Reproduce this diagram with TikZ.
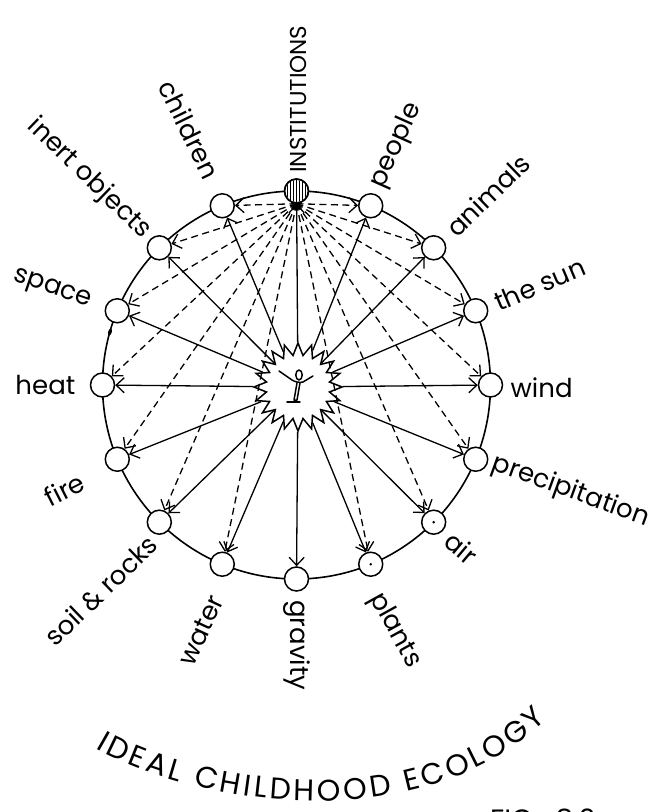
\documentclass[tikz,border=0pt]{standalone}
\usepackage{fontspec}
\setmainfont{Poppins}
\usetikzlibrary{arrows.meta,shapes.geometric,decorations.text}

\newcommand{\lblfont}{\fontsize{26}{28}\selectfont}
\newcommand{\titlefont}{\fontsize{30}{32}\selectfont}

\tikzset{
  ring/.style={line width=1.6pt},
  station/.style={circle, draw, line width=1.5pt, fill=white, minimum size=24pt, inner sep=0pt},
  lbl/.style={font=\lblfont, inner sep=0pt},
  lblout/.style={lbl, anchor=west},
  lblin/.style={lbl, anchor=east},
  link/.style={line width=1.3pt, -{Straight Barb[length=8pt,width=15pt,line width=1.3pt]}},
  dlink/.style={link, dash pattern=on 7pt off 4.5pt},
}

\begin{document}
\begin{tikzpicture}[x=1pt,y=1pt]
\fill[white] (-296.5,-427) rectangle (356.5,385);
\useasboundingbox (-296.5,-427) rectangle (356.5,385);

% the ring of surroundings
\draw[ring] (0,0) circle (194);
\fill[rotate around={74:(-186.5,53)}] (-186.5,53) ellipse (3.5 and 1.8);

% stations on the ring, every 22.5 degrees
\node[station] (inst)   at (90:194) {};
\node[station] (people) at (67.5:194) {};
\node[station] (animals) at (45:194) {};
\node[station] (sun)    at (22.5:194) {};
\node[station] (wind)   at (0:194) {};
\node[station] (precip) at (-22.5:194) {};
\node[station] (air)    at (-45:194) {};
\node[station] (plants) at (-67.5:194) {};
\node[station] (gravity) at (-90:194) {};
\node[station] (water)  at (-112.5:194) {};
\node[station] (soil)   at (-135:194) {};
\node[station] (fire)   at (-157.5:194) {};
\node[station] (heat)   at (180:194) {};
\node[station] (space)  at (157.5:194) {};
\node[station] (inert)  at (135:194) {};
\node[station] (children) at (112.5:194) {};

% hatched institutions station
\begin{scope}
  \clip (inst.center) circle (11);
  \foreach \dx in {-9,-6,...,9}
    \draw[line width=1pt] ([xshift=\dx pt]inst.center) ++(0,-12) -- ++(0,24);
\end{scope}
\draw[line width=1.5pt] (inst.center) circle (12);

% dotted stations
\fill (air.center) circle (1.4);
\fill (plants.center) circle (1.4);

% the child at the centre
\node[star, star points=20, star point ratio=1.38, minimum size=88pt,
      draw, line width=1.5pt, fill=white, inner sep=0pt] (hub) at (1.5,-2) {};
\begin{scope}[shift={(hub.center)}, line width=1.5pt, line cap=round, line join=round]
  \draw (1,12) ellipse (3.2 and 5);
  \draw (-19,16) -- (-6,7) .. controls (-3,5) and (2,4) .. (5,5) -- (15,11);
  \draw (-1,4) -- (-4,-13) -- (-1,-13) -- (2,4);
  \draw (-11,-15) -- (2,-15);
\end{scope}

% direct links from the child
\foreach \n in {inst,people,animals,sun,wind,precip,air,plants,gravity,
                water,soil,fire,heat,space,inert,children}
  \draw[link] (hub) -- (\n);

% links through institutions
\foreach \n in {people,animals,sun,wind,precip,air,plants,
                water,soil,fire,heat,space,inert,children}
  \draw[dlink] (inst.south) -- (\n);

% labels
\node[lblout, rotate=90, font=\fontsize{23}{25}\selectfont] (tInst) at (89.6:212) {INSTITUTIONS};
\node[lblout, rotate=66]    (tPeople)  at (67.6:214) {people};
\node[lblout, rotate=44]    (tAnimals) at (44.9:217) {animals};
\node[lblout, rotate=23]    (tSun)     at (22.4:215) {the sun};
\node[lblout, rotate=0]     (tWind)    at (-0.8:214) {wind};
\node[lblout, rotate=-20]   (tPrecip)  at (-21.7:211) {precipitation};
\node[lblout, rotate=-40]   (tAir)     at (-45:215) {air};
\node[lblout, rotate=-61]   (tPlants)  at (-69.5:224) {plants};
\node[lblout, rotate=-90]   (tGravity) at (-90:215) {gravity};
\node[lblin,  rotate=65]    (tWater)   at (-110.6:226) {water};
\node[lblin,  rotate=44]    (tSoil)    at (-132.8:211) {soil \& rocks};
\node[lblin,  rotate=27]    (tFire)    at (-156:234) {fire};
\node[lblin,  rotate=0]     (tHeat)    at (180:221) {heat};
\node[lblin,  rotate=-19]   (tSpace)   at (158.3:222) {space};
\node[lblin,  rotate=-44]   (tInert)   at (134.9:212) {inert objects};
\node[lblin,  rotate=-64]   (tChildren) at (111.9:224) {children};

% title along a curve
\path[decorate, decoration={text along path,
      text={|\titlefont|IDEAL CHILDHOOD ECOLOGY}, text align={fit to path}}]
  (-201,-363) .. controls (-110,-417) and (120,-459) .. (250,-335);

\node[anchor=north west, inner sep=0pt, font=\fontsize{28}{30}\selectfont] (fig)
  at (193.5,-424) {FIG.\hspace{0.6em}8.2};
\end{tikzpicture}
\end{document}
